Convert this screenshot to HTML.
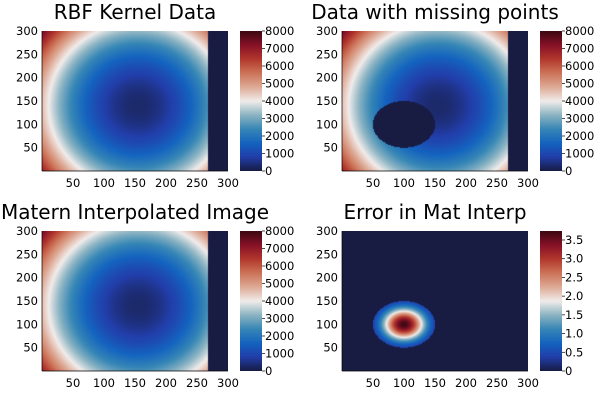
<!DOCTYPE html>
<html><head><meta charset="utf-8"><style>
body{margin:0;background:#fff;width:600px;height:400px;overflow:hidden;position:relative;font-family:"DejaVu Sans","Liberation Sans",sans-serif}
canvas{position:absolute}
svg{position:absolute;left:0;top:0;font-family:"DejaVu Sans","Liberation Sans",sans-serif}
</style></head><body>
<div id="root"></div>
<script>
// field parameters
const centerXY=[155,140];
const scaleXY=[0.178,0.117];
const baseValue=[300];
const maskedColumnStart=[268];
const holeCenter=[100,100];
const holeRadius=[50];
const errPeak=[3.72];
const errSigma=[24];
const fieldTicks=[0,1000,2000,3000,4000,5000,6000,7000,8000];
const errTicks=[0,0.5,1.0,1.5,2.0,2.5,3.0,3.5];
const axisTicks=[50,100,150,200,250,300];
const titles=["RBF Kernel Data","Data with missing points","Matern Interpolated Image","Error in Mat Interp"];

const stops=[[24,28,67],[34,62,170],[20,100,192],[55,135,182],[140,180,195],[241,236,235],[222,170,150],[205,115,88],[178,55,45],[135,18,40],[60,9,18]];
function cmap(t){t=Math.max(0,Math.min(1,t));const f=t*10,i=Math.min(9,Math.floor(f)),u=f-i;const a=stops[i],b=stops[i+1];return[a[0]+(b[0]-a[0])*u,a[1]+(b[1]-a[1])*u,a[2]+(b[2]-a[2])*u];}
function field(x,y,hole){
  if(x>=maskedColumnStart[0]+(y>150?-0.8:0))return 0;
  if(hole){const dx=x-holeCenter[0],dy=y-holeCenter[1];if(dx*dx+dy*dy<holeRadius[0]*holeRadius[0])return 0;}
  const dx=x-centerXY[0],dy=y-centerXY[1];return baseValue[0]+scaleXY[0]*dx*dx+scaleXY[1]*dy*dy;}
function errf(x,y){const dx=x-holeCenter[0],dy=y-holeCenter[1];const r2=dx*dx+dy*dy;if(r2>holeRadius[0]*holeRadius[0])return 0;return errPeak[0]*Math.exp(-r2/(2*errSigma[0]*errSigma[0]));}

const root=document.getElementById('root');
const NS="http://www.w3.org/2000/svg";
const svg=document.createElementNS(NS,'svg');svg.setAttribute('width',600);svg.setAttribute('height',400);
const W=186,H=140;
function xs(ox,v){return ox+42+v/300*W;}
function ys(oy,v){return oy+171-v/300*H;}
function txt(x,y,s,size,anchor,name){const t=document.createElementNS(NS,'text');t.setAttribute('x',x);t.setAttribute('y',y);t.setAttribute('font-size',size);t.setAttribute('text-anchor',anchor);t.setAttribute('fill','#000');t.textContent=s;


svg.appendChild(t);return t;}
function line(x1,y1,x2,y2,name){const l=document.createElementNS(NS,'line');l.setAttribute('x1',x1);l.setAttribute('y1',y1);l.setAttribute('x2',x2);l.setAttribute('y2',y2);l.setAttribute('stroke','#000');l.setAttribute('stroke-width',0.7);


svg.appendChild(l);}
function panel(k,ox,oy,fn,vmax,cticks,fmt){
  const c=document.createElement('canvas');c.width=W;c.height=H;c.style.left=(ox+42)+'px';c.style.top=(oy+31)+'px';
  
  
  root.appendChild(c);const g=c.getContext('2d');const im=g.createImageData(W,H);
  for(let j=0;j<H;j++)for(let i=0;i<W;i++){const x=(i+0.5)/W*300,y=300-(j+0.5)/H*300;const col=cmap(fn(x,y)/vmax);const p=(j*W+i)*4;im.data[p]=col[0];im.data[p+1]=col[1];im.data[p+2]=col[2];im.data[p+3]=255;}
  g.putImageData(im,0,0);
  const cb=document.createElement('canvas');cb.width=22;cb.height=H;cb.style.left=(ox+240)+'px';cb.style.top=(oy+31)+'px';
  
  
  root.appendChild(cb);const g2=cb.getContext('2d');
  for(let j=0;j<H;j++){const col=cmap(1-(j+0.5)/H);g2.fillStyle=`rgb(${col[0]|0},${col[1]|0},${col[2]|0})`;g2.fillRect(0,j,22,1);}
  txt(ox+135,oy+19,titles[k],20,'middle','panel-title');
  line(ox+42,oy+171,ox+228,oy+171,'x-axis');line(ox+42,oy+31,ox+42,oy+171,'y-axis');
  axisTicks.forEach(v=>{txt(xs(ox,v),oy+187,String(v),11.5,'middle','x-tick-label');txt(ox+38,ys(oy,v)+4,String(v),11.5,'end','y-tick-label');});
  cticks.forEach(v=>{const y=oy+171-v/vmax*H;line(ox+262,y,ox+265,y,'colorbar-tick');txt(ox+265,y+4,fmt(v),11.5,'start','colorbar-tick-label');});
}
panel(0,0,0,(x,y)=>field(x,y,false),8000,fieldTicks,v=>String(v));
panel(1,300,0,(x,y)=>field(x,y,true),8000,fieldTicks,v=>String(v));
panel(2,0,200,(x,y)=>field(x,y,false),8000,fieldTicks,v=>String(v));
panel(3,300,200,errf,3.74,errTicks,v=>v===0?'0':v.toFixed(1));
root.appendChild(svg);


</script>
</body></html>
